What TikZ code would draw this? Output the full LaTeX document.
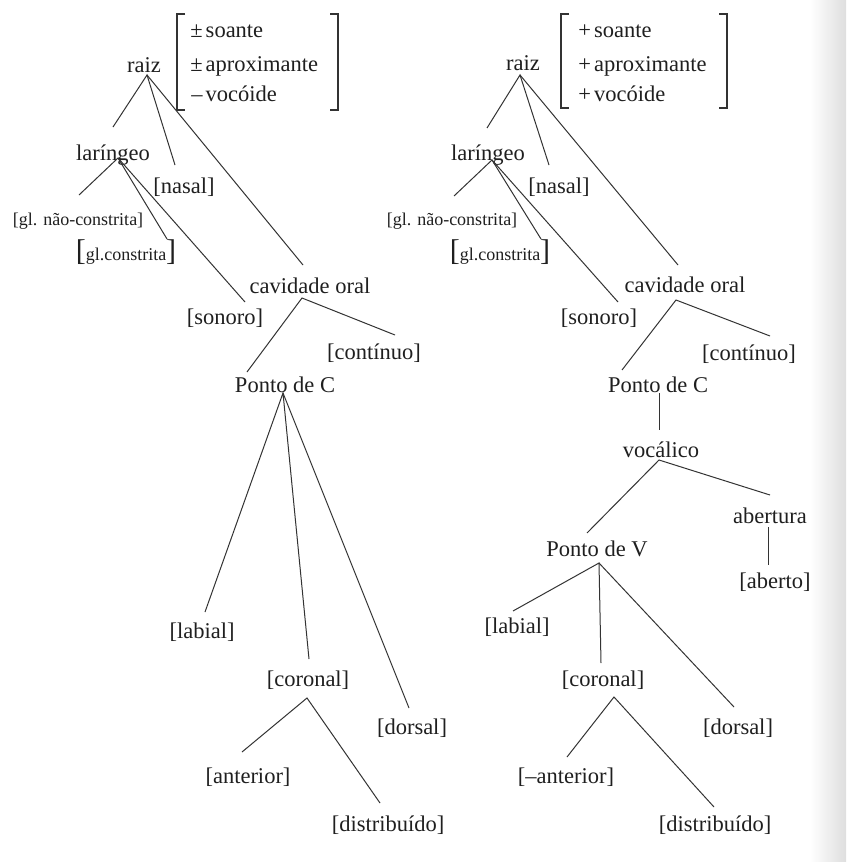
\documentclass[tikz,border=0pt]{standalone}
\usepackage{fontspec}
\setmainfont{Liberation Serif}
\begin{document}
\begin{tikzpicture}[x=0.5pt,y=-0.5pt,
  lab/.style={anchor=base, inner sep=0pt, text=black!88,
              font=\fontsize{11.25}{13}\selectfont},
  featl/.style={lab, anchor=base west},
  small/.style={lab, font=\fontsize{9}{11}\selectfont},
  edge/.style={draw=black!80, line width=0.5pt},
  brk/.style={draw=black!80, line width=0.6pt}]
\useasboundingbox (0,0) rectangle (846,862);
\fill[white] (0,0) rectangle (846,862);
% page shadow along the right edge
\shade[left color=white, right color=black!13] (810,0) rectangle (846,862);

% ===================== left tree =====================
\node[lab] (raizL) at (144,72) {raiz};
\node[featl] (fL1) at (190,37)  {±\kern1.5pt soante};
\node[featl] (fL2) at (190,71)  {±\kern1.5pt aproximante};
\node[featl] (fL3) at (191,101) {–\kern1.5pt vocóide};
\draw[brk] (185,14) -- (177,14) -- (177,110) -- (185,110);
\draw[brk] (330,14) -- (338,14) -- (338,110) -- (330,110);

\node[lab] (larL) at (113,160) {laríngeo};
\node[lab] (nasL) at (184,193) {[nasal]};
\node[small] (gnL) at (78,225) {[gl. não-constrita]};
\node[small] (gcL) at (126,260) {{\fontsize{15}{15}\selectfont[}gl.constrita{\fontsize{15}{15}\selectfont]}};
\node[lab] (sonL) at (225,324) {[sonoro]};
\node[lab] (cavL) at (310,293) {cavidade oral};
\node[lab] (conL) at (374,359) {[contínuo]};
\node[lab] (pcL) at (285,392) {Ponto de C};
\node[lab] (labL) at (202,638) {[labial]};
\node[lab] (corL) at (308,686) {[coronal]};
\node[lab] (dorL) at (412,734) {[dorsal]};
\node[lab] (antL) at (248,783) {[anterior]};
\node[lab] (disL) at (388,831) {[distribuído]};

% attachment points of the branches
\coordinate (raizL-b) at (147,75);
\coordinate (larL-t) at (113,127);
\coordinate (nasL-t) at (175,165);
\coordinate (cavL-t) at (303,265);
\coordinate (larL-b) at (118,158);
\coordinate (gnL-t) at (79,195);
\coordinate (gcL-t) at (167,239);
\coordinate (sonL-t) at (245,302);
\coordinate (cavL-b) at (302,298);
\coordinate (pcL-t) at (247,372);
\coordinate (conL-t) at (395,335);
\coordinate (pcL-b) at (283,393);
\coordinate (labL-t) at (205,612);
\coordinate (corL-t) at (309,659);
\coordinate (dorL-t) at (409,708);
\coordinate (corL-b) at (307,698);
\coordinate (antL-t) at (242,752);
\coordinate (disL-t) at (380,803);

\draw[edge] (larL-t) -- (raizL-b) -- (nasL-t);
\draw[edge] (raizL-b) -- (cavL-t);
\draw[edge] (gnL-t) -- (larL-b) -- (gcL-t);
\draw[edge] (larL-b) -- (sonL-t);
\draw[edge] (pcL-t) -- (cavL-b) -- (conL-t);
\draw[edge] (labL-t) -- (pcL-b) -- (corL-t);
\draw[edge] (pcL-b) -- (dorL-t);
\draw[edge] (antL-t) -- (corL-b) -- (disL-t);

% ===================== right tree =====================
\node[lab] (raizR) at (523,70) {raiz};
\node[featl] (fR1) at (578,37)  {+\kern1.5pt soante};
\node[featl] (fR2) at (578,71)  {+\kern1.5pt aproximante};
\node[featl] (fR3) at (578,101) {+\kern1.5pt vocóide};
\draw[brk] (569,14) -- (561,14) -- (561,108) -- (569,108);
\draw[brk] (719,14) -- (727,14) -- (727,108) -- (719,108);

\node[lab] (larR) at (488,160) {laríngeo};
\node[lab] (nasR) at (559,193) {[nasal]};
\node[small] (gnR) at (452,225) {[gl. não-constrita]};
\node[small] (gcR) at (500,260) {{\fontsize{15}{15}\selectfont[}gl.constrita{\fontsize{15}{15}\selectfont]}};
\node[lab] (sonR) at (599,324) {[sonoro]};
\node[lab] (cavR) at (685,292) {cavidade oral};
\node[lab] (conR) at (749,360) {[contínuo]};
\node[lab] (pcR) at (658,392) {Ponto de C};
\node[lab] (vocR) at (661,457) {vocálico};
\node[lab] (abtR) at (770,523) {abertura};
\node[lab] (abR) at (775,588) {[aberto]};
\node[lab] (pvR) at (597,556) {Ponto de V};
\node[lab] (labR) at (517,633) {[labial]};
\node[lab] (corR) at (603,686) {[coronal]};
\node[lab] (dorR) at (738,734) {[dorsal]};
\node[lab] (antR) at (566,783) {[–anterior]};
\node[lab] (disR) at (715,831) {[distribuído]};

\coordinate (raizR-b) at (520,75);
\coordinate (larR-t) at (487,128);
\coordinate (nasR-t) at (549,165);
\coordinate (cavR-t) at (678,265);
\coordinate (larR-b) at (492,160);
\coordinate (gnR-t) at (454,196);
\coordinate (gcR-t) at (541,239);
\coordinate (sonR-t) at (618,302);
\coordinate (cavR-b) at (676,300);
\coordinate (pcR-t) at (622,370);
\coordinate (conR-t) at (770,336);
\coordinate (pcR-b) at (659,393);
\coordinate (vocR-t) at (659,430);
\coordinate (vocR-b) at (659,460);
\coordinate (pvR-t) at (587,533);
\coordinate (abtR-t) at (770,495);
\coordinate (abtR-b) at (768,527);
\coordinate (abR-t) at (768,565);
\coordinate (pvR-b) at (599,563);
\coordinate (labR-t) at (513,611);
\coordinate (corR-t) at (601,663);
\coordinate (dorR-t) at (734,707);
\coordinate (corR-b) at (614,697);
\coordinate (antR-t) at (567,757);
\coordinate (disR-t) at (714,807);

\draw[edge] (larR-t) -- (raizR-b) -- (nasR-t);
\draw[edge] (raizR-b) -- (cavR-t);
\draw[edge] (gnR-t) -- (larR-b) -- (gcR-t);
\draw[edge] (larR-b) -- (sonR-t);
\draw[edge] (pcR-t) -- (cavR-b) -- (conR-t);
\draw[edge] (pcR-b) -- (vocR-t);
\draw[edge] (pvR-t) -- (vocR-b) -- (abtR-t);
\draw[edge] (abtR-b) -- (abR-t);
\draw[edge] (labR-t) -- (pvR-b) -- (corR-t);
\draw[edge] (pvR-b) -- (dorR-t);
\draw[edge] (antR-t) -- (corR-b) -- (disR-t);
\end{tikzpicture}
\end{document}
